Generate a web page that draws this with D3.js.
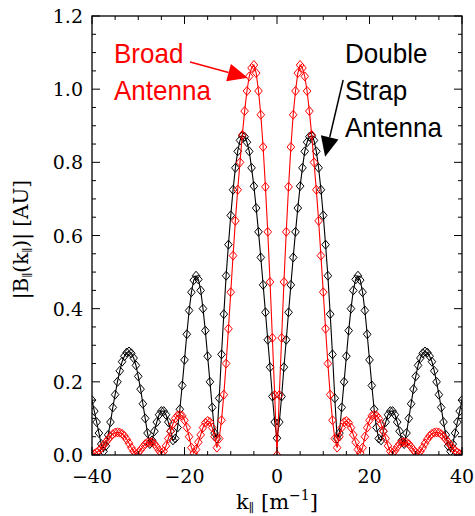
<!DOCTYPE html>
<html>
<head>
<meta charset="utf-8">
<script src="https://cdn.jsdelivr.net/npm/d3@7"></script>
<style>
  html, body { margin: 0; padding: 0; background: #fff; }
  svg { display: block; }
  .tick-label { font-family: "DejaVu Serif", serif; font-size: 19px; fill: #000; }
  .axis-title { font-family: "DejaVu Serif", serif; font-size: 19px; fill: #000; }
  .note { font-family: "Liberation Sans", Arial, sans-serif; font-size: 28px; }
</style>
</head>
<body>
<div id="chart"></div>
<script>
// k_parallel sample points (m^-1), positive half; spectra are symmetric in k
const kHalf = [
  0, 0.5, 1, 1.5, 2, 2.5, 3, 3.5, 4, 4.5, 5, 5.5, 6, 6.5, 7, 7.5, 8, 8.5, 9, 9.5,
  10, 10.5, 11, 11.5, 12, 12.5, 13, 13.5, 14, 14.5, 15, 15.5, 16, 16.5, 17, 17.5, 18, 18.5, 19, 19.5,
  20, 20.5, 21, 21.5, 22, 22.5, 23, 23.5, 24, 24.5, 25, 25.5, 26, 26.5, 27, 27.5, 28, 28.5, 29, 29.5,
  30, 30.5, 31, 31.5, 32, 32.5, 33, 33.5, 34, 34.5, 35, 35.5, 36, 36.5, 37, 37.5, 38, 38.5, 39, 39.5, 40
];

// |B(k)| for the broad antenna (red)
const broadHalf = [
  0, 0.164, 0.32, 0.473, 0.61, 0.733, 0.842, 0.93, 0.995, 1.044, 1.066, 1.058, 1.035, 0.995, 0.94, 0.875, 0.80, 0.725, 0.64, 0.545,
  0.445, 0.345, 0.25, 0.165, 0.095, 0.045, 0.02, 0.05, 0.075, 0.09, 0.093, 0.088, 0.075, 0.055, 0.035, 0.015, 0.005, 0.02, 0.05, 0.075,
  0.095, 0.107, 0.11, 0.108, 0.10, 0.085, 0.065, 0.045, 0.025, 0.01, 0.005, 0.012, 0.022, 0.03, 0.035, 0.035, 0.034, 0.03, 0.022, 0.014,
  0.006, 0.002, 0.01, 0.02, 0.032, 0.043, 0.052, 0.058, 0.061, 0.062, 0.061, 0.057, 0.051, 0.043, 0.035, 0.027, 0.019, 0.012, 0.007, 0.003, 0.001
];

// |B(k)| for the double strap antenna (black)
const strapHalf = [
  0.046, 0.09, 0.16, 0.24, 0.315, 0.39, 0.465, 0.54, 0.61, 0.675, 0.735, 0.785, 0.83, 0.855, 0.87, 0.872, 0.86, 0.83, 0.785, 0.725,
  0.655, 0.575, 0.49, 0.385, 0.275, 0.155, 0.045, 0.06, 0.13, 0.2, 0.27, 0.34, 0.40, 0.45, 0.48, 0.49, 0.478, 0.445, 0.395, 0.33,
  0.26, 0.19, 0.125, 0.075, 0.045, 0.04, 0.065, 0.09, 0.11, 0.12, 0.12, 0.11, 0.09, 0.065, 0.04, 0.03, 0.06, 0.10, 0.14, 0.18,
  0.215, 0.245, 0.265, 0.278, 0.283, 0.28, 0.27, 0.255, 0.23, 0.20, 0.165, 0.13, 0.09, 0.055, 0.025, 0.01, 0.03, 0.06, 0.09, 0.12, 0.15
];

const xTicks = [-40, -20, 0, 20, 40];
const yTicks = [0.0, 0.2, 0.4, 0.6, 0.8, 1.0, 1.2];

// mirror the half spectra onto negative k
function mirror(ks, vs) {
  const out = [];
  for (let i = ks.length - 1; i > 0; i--) out.push({ k: -ks[i], v: vs[i] });
  for (let i = 0; i < ks.length; i++) out.push({ k: ks[i], v: vs[i] });
  return out;
}
const strap = mirror(kHalf, strapHalf);
const broad = mirror(kHalf, broadHalf);

const fullW = 475, fullH = 516;
const margin = { top: 16, right: 13, bottom: 61, left: 92 };
const W = fullW - margin.left - margin.right;
const H = fullH - margin.top - margin.bottom;

const svg = d3.select("#chart").append("svg")
  .attr("width", fullW).attr("height", fullH);

const g = svg.append("g").attr("transform", `translate(${margin.left},${margin.top})`);

const x = d3.scaleLinear().domain([-40, 40]).range([0, W]);
const y = d3.scaleLinear().domain([0, 1.2]).range([H, 0]);

svg.append("defs").append("clipPath").attr("id", "plotclip")
  .append("rect").attr("x", 0).attr("y", -10).attr("width", W).attr("height", H + 10);

// ---- series ----
const line = d3.line().x(d => x(d.k)).y(d => y(d.v));
const diamond = "M0,-4.5L3.8,0L0,4.5L-3.8,0Z";

function drawSeries(data, colour) {
  const s = g.append("g").attr("clip-path", "url(#plotclip)");
  s.append("path").datum(data)
    .attr("fill", "none").attr("stroke", colour).attr("stroke-width", 1.1)
    .attr("d", line);
  s.selectAll("path.pt").data(data).enter().append("path")
    .attr("class", "pt")
    .attr("d", diamond)
    .attr("transform", d => `translate(${x(d.k)},${y(d.v)})`)
    .attr("fill", "none").attr("stroke", colour).attr("stroke-width", 1);
}
drawSeries(strap, "#000");
drawSeries(broad, "#ff0000");

// ---- frame and ticks (IDL style, ticks on all sides) ----
g.append("rect").attr("x", 0).attr("y", 0).attr("width", W).attr("height", H)
  .attr("fill", "none").attr("stroke", "#000").attr("stroke-width", 1.3);

const xMinor = d3.range(-40, 40.01, 5);
const yMinor = d3.range(0, 1.2001, 0.05);
const major = 8, minor = 4;

xMinor.forEach(k => {
  const len = xTicks.includes(k) ? major : minor;
  g.append("line").attr("x1", x(k)).attr("x2", x(k)).attr("y1", H).attr("y2", H - len).attr("stroke", "#000");
  g.append("line").attr("x1", x(k)).attr("x2", x(k)).attr("y1", 0).attr("y2", len).attr("stroke", "#000");
});
yMinor.forEach(v => {
  const isMajor = yTicks.some(t => Math.abs(t - v) < 1e-6);
  const len = isMajor ? major : minor;
  g.append("line").attr("y1", y(v)).attr("y2", y(v)).attr("x1", 0).attr("x2", len).attr("stroke", "#000");
  g.append("line").attr("y1", y(v)).attr("y2", y(v)).attr("x1", W).attr("x2", W - len).attr("stroke", "#000");
});

g.selectAll(".xl").data(xTicks).enter().append("text")
  .attr("class", "tick-label")
  .attr("x", d => x(d)).attr("y", H + 28)
  .attr("text-anchor", "middle")
  .text(d => d < 0 ? "\u2212" + Math.abs(d) : d);

g.selectAll(".yl").data(yTicks).enter().append("text")
  .attr("class", "tick-label")
  .attr("x", -9).attr("y", d => y(d) + 7)
  .attr("text-anchor", "end")
  .text(d => d.toFixed(1));

// ---- axis titles ----
const xt = g.append("text").attr("class", "axis-title")
  .style("font-size", "21px")
  .attr("x", W / 2).attr("y", H + 54).attr("text-anchor", "middle");
xt.append("tspan").text("k");
xt.append("tspan").attr("font-size", "12px").attr("dy", 3).text("\u2225");
xt.append("tspan").attr("dy", -3).text(" [m");
xt.append("tspan").attr("font-size", "14px").attr("dy", -9).text("\u22121");
xt.append("tspan").attr("dy", 9).text("]");

const yt = g.append("text").attr("class", "axis-title")
  .style("font-size", "20px")
  .attr("text-anchor", "middle")
  .attr("transform", `translate(-64,${H / 2 + 4}) rotate(-90)`);
yt.append("tspan").text("|B");
yt.append("tspan").attr("font-size", "11px").attr("dy", 3).text("\u2225");
yt.append("tspan").attr("dy", -3).text("(k");
yt.append("tspan").attr("font-size", "11px").attr("dy", 3).text("\u2225");
yt.append("tspan").attr("dy", -3).text(")| [AU]");

// ---- annotations ----
function arrow(from, to, colour) {
  const x0 = x(from[0]), y0 = y(from[1]), x1 = x(to[0]), y1 = y(to[1]);
  const dx = x1 - x0, dy = y1 - y0, L = Math.hypot(dx, dy);
  const ux = dx / L, uy = dy / L, px = -uy, py = ux;
  const hl = 20, hw = 9;
  const bx = x1 - ux * hl, by = y1 - uy * hl;
  g.append("line").attr("x1", x0).attr("y1", y0).attr("x2", bx).attr("y2", by)
    .attr("stroke", colour).attr("stroke-width", 1.5);
  g.append("path")
    .attr("d", `M${x1},${y1}L${bx + px * hw},${by + py * hw}L${bx - px * hw},${by - py * hw}Z`)
    .attr("fill", colour);
}
arrow([-18.8, 1.074], [-6.3, 1.031], "#ff0000");
arrow([14.3, 1.025], [10.4, 0.815], "#000");

function note(lines, xPix, yPix, colour) {
  const t = g.append("text").attr("class", "note").attr("fill", colour)
    .attr("transform", `translate(${xPix},${yPix}) scale(0.93,1)`);
  lines.forEach((s, i) => t.append("tspan").attr("x", 0).attr("y", i * 37).text(s));
}
note(["Broad", "Antenna"], 114 - margin.left, 63 - margin.top, "#ff0000");
note(["Double", "Strap", "Antenna"], 345 - margin.left, 63 - margin.top, "#000");
</script>
</body>
</html>
